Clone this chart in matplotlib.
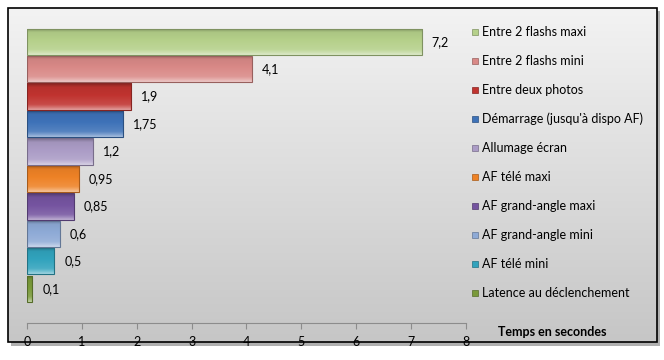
import numpy as np
import matplotlib
matplotlib.use("Agg")
import matplotlib.pyplot as plt
from matplotlib.patches import Rectangle
from matplotlib.colors import to_rgb

# categories, bottom to top as drawn
labels = ["Latence au déclenchement",
          "AF télé mini",
          "AF grand-angle mini",
          "AF grand-angle maxi",
          "AF télé maxi",
          "Allumage écran",
          "Démarrage (jusqu'à dispo AF)",
          "Entre deux photos",
          "Entre 2 flashs mini",
          "Entre 2 flashs maxi"]
values = [0.1, 0.5, 0.6, 0.85, 0.95, 1.2, 1.75, 1.9, 4.1, 7.2]
value_text = ["0,1", "0,5", "0,6", "0,85", "0,95", "1,2", "1,75", "1,9", "4,1", "7,2"]
colors = ["#7a9a3a", "#31a3bd", "#8eaad6", "#7554a0", "#ee8226",
          "#ab9cc6", "#3e72b8", "#c0332f", "#d98987", "#b5d08a"]
xticks = [0, 1, 2, 3, 4, 5, 6, 7, 8]

W, H = 664, 360
fig = plt.figure(figsize=(W / 100, H / 100), dpi=100)
plt.rcParams['font.family'] = ['Lato', 'DejaVu Sans']


def shade(c, s):
    r = np.array(to_rgb(c))
    if s >= 0:
        return r + (1 - r) * s
    return r * (1 + s)


# background panel with gradient, border and shadow
bg = fig.add_axes([0, 0, 1, 1])
bg.set_xlim(0, W)
bg.set_ylim(H, 0)
bg.axis("off")
bg.add_patch(Rectangle((11, 11), 649, 335, facecolor="#b0b0b0", edgecolor="none", zorder=0))
grad = np.linspace(0, 1, 256).reshape(-1, 1)
top, bot = np.array(to_rgb("#f3f3f3")), np.array(to_rgb("#c6c6c6"))
img = top + (bot - top) * grad[..., None]
bg.imshow(img, extent=(8, 657, 342, 8), aspect="auto", zorder=1)
bg.add_patch(Rectangle((8, 8), 649, 334, facecolor="none", edgecolor="black", lw=1.2, zorder=2))

ax = fig.add_axes([27 / W, (H - 323) / H, (466 - 27) / W, (323 - 28) / H])
ax.patch.set_alpha(0)
ypos = np.arange(len(values))
bars = ax.barh(ypos, values, height=0.96, color=colors, edgecolor="none", zorder=2)

# soft bevel gradient on each bar (light at top, darker at bottom)
g = np.linspace(0, 1, 64)
prof = np.interp(g, [0, 0.08, 0.2, 0.55, 0.85, 1], [0.55, 0.35, 0.12, 0.0, -0.05, -0.3])
for b, c in zip(bars, colors):
    x0, y0 = b.get_x(), b.get_y()
    w, h = b.get_width(), b.get_height()
    cols = np.array([shade(c, s) for s in prof])
    # row 0 = top of bar
    im = ax.imshow(cols[:, None, :], extent=(x0, x0 + w, y0, y0 + h), origin="lower",
                   aspect="auto", interpolation="bilinear", zorder=3)
    im.set_clip_path(b)
    ax.add_patch(Rectangle((x0, y0), w, h, facecolor="none", edgecolor=shade(c, -0.3), lw=0.8, zorder=4))

for y, v, t in zip(ypos, values, value_text):
    ax.annotate(t, (v, y), xytext=(7, 0), textcoords="offset points",
                va="center", ha="left", fontsize=9, color="black")

ax.set_xlim(0, 8)
ax.set_ylim(-1.25, 9.5)
ax.set_xticks(xticks)
ax.set_yticks([])
for s in ["top", "right", "left"]:
    ax.spines[s].set_visible(False)
ax.spines["bottom"].set_color("#8c8c8c")
ax.tick_params(axis="x", direction="out", length=4, color="#8c8c8c", labelsize=9, pad=5)

# legend, top to bottom
for i, (lab, c) in enumerate(zip(labels[::-1], colors[::-1])):
    yp = 32 + i * 29.0
    bg.add_patch(Rectangle((472, yp - 3), 6, 6, facecolor=c, edgecolor=shade(c, -0.3), lw=0.5, zorder=5))
    bg.text(482, yp, lab, va="center", ha="left", fontsize=9, zorder=5)

bg.text(552, 332, "Temps en secondes", ha="center", va="center", fontsize=9, fontweight="bold", zorder=5)

fig.savefig("out.png", dpi=100)
